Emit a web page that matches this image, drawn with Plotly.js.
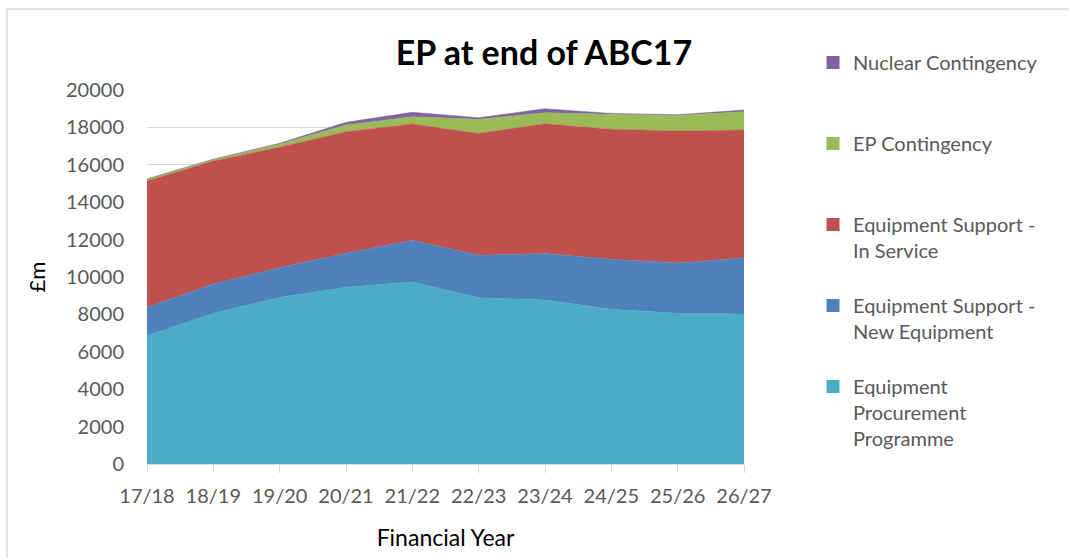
<!DOCTYPE html>
<html>
<head>
<meta charset="utf-8">
<script src="https://cdn.plot.ly/plotly-3.0.1.min.js"></script>
<style>
html,body{margin:0;padding:0;background:#fff;}
#chart{width:1069px;height:558px;}
</style>
</head>
<body>
<div id="chart"></div>
<script>
const years = ["17/18","18/19","19/20","20/21","21/22","22/23","23/24","24/25","25/26","26/27"];
const procurement = [6850, 8060, 8910, 9450, 9730, 8890, 8770, 8270, 8060, 8020];
const supportNew = [1530, 1570, 1590, 1820, 2230, 2270, 2480, 2680, 2690, 3000];
const supportInService = [6750, 6570, 6440, 6500, 6220, 6520, 6950, 6950, 7060, 6840];
const epContingency = [110, 90, 170, 360, 390, 750, 590, 800, 840, 980];
const nuclearContingency = [0, 10, 40, 140, 240, 90, 210, 50, 30, 90];
const yTicks = [0,2000,4000,6000,8000,10000,12000,14000,16000,18000,20000];

const seriesNames = ["Equipment<br>Procurement<br>Programme",
  "Equipment Support -<br>New Equipment",
  "Equipment Support -<br>In Service",
  "EP Contingency",
  "Nuclear Contingency"];
const seriesValues = [procurement, supportNew, supportInService, epContingency, nuclearContingency];
const seriesColors = ["#4BACC6","#4F81BD","#C0504D","#9BBB59","#8064A2"];

const traces = [];
seriesValues.forEach((vals, i) => {
  traces.push({
    type: 'scatter', mode: 'lines', x: years, y: vals,
    stackgroup: 'one', name: seriesNames[i].replace(/<br>/g,' '),
    fillcolor: seriesColors[i],
    line: {color: seriesColors[i], width: 0.5},
    showlegend: false, hoverinfo: 'skip'
  });
});
// legend entries (top to bottom), padded to equal height
for (let i = seriesValues.length - 1; i >= 0; i--) {
  let label = seriesNames[i];
  const lines = label.split('<br>').length;
  for (let k = lines; k < 3; k++) label += '<br> ';
  traces.push({
    type: 'scatter', mode: 'markers', x: [null], y: [null],
    name: label, marker: {symbol: 'square', size: 13, color: seriesColors[i]},
    showlegend: true, hoverinfo: 'skip'
  });
}

const W = 1069, H = 558, L = 147, R = 325, T = 90, B = 94;
const pw = W - L - R, ph = H - T - B;
const px = v => (v - L) / pw;
const py = v => (H - B - v) / ph;

const layout = {
  width: W, height: H,
  margin: {l: L, r: R, t: T, b: B, pad: 0},
  paper_bgcolor: '#ffffff', plot_bgcolor: '#ffffff',
  font: {family: 'Lato, "Open Sans", sans-serif', color: '#595959', size: 20},
  title: {text: '<b>EP at end of ABC17</b>', font: {size: 34, color: '#000000', family: 'Lato, sans-serif'},
          x: 544 / W, xref: 'container', xanchor: 'center', y: 1 - 53 / H, yref: 'container', yanchor: 'middle'},
  xaxis: {
    type: 'category', range: [0, years.length - 1], fixedrange: true,
    showgrid: false, showline: true, linecolor: '#D9D9D9', linewidth: 1,
    ticks: 'outside', ticklen: 8, tickcolor: '#D9D9D9', tickwidth: 1,
    tickfont: {size: 20, color: '#595959'}, ticklabelstandoff: 6,
    title: {text: 'Financial Year', font: {size: 23, color: '#000000'}, standoff: 23},
    automargin: false
  },
  yaxis: {
    range: [0, 20000], tickvals: yTicks, ticktext: yTicks.map(String), fixedrange: true,
    showgrid: true, gridcolor: '#D9D9D9', gridwidth: 1, zeroline: false, showline: false,
    ticks: '', tickfont: {size: 20, color: '#595959'}, ticklabelstandoff: 22,
    title: {text: '£m', font: {size: 22, color: '#000000'}, standoff: 14},
    automargin: false
  },
  legend: {
    x: px(813), y: py(43), xanchor: 'left', yanchor: 'top',
    font: {size: 20, color: '#595959'}, valign: 'top', traceorder: 'normal',
    bgcolor: 'rgba(0,0,0,0)', itemwidth: 30, maxheight: 520
  },
  shapes: [
    {type: 'line', xref: 'paper', yref: 'paper', x0: px(7), x1: px(W), y0: py(9), y1: py(9), line: {color: '#D9D9D9', width: 1.5}},
    {type: 'line', xref: 'paper', yref: 'paper', x0: px(7), x1: px(7), y0: py(9), y1: py(H), line: {color: '#D9D9D9', width: 1.5}}
  ],
  showlegend: true
};

Plotly.newPlot('chart', traces, layout, {displayModeBar: false, staticPlot: true});
</script>
</body>
</html>
